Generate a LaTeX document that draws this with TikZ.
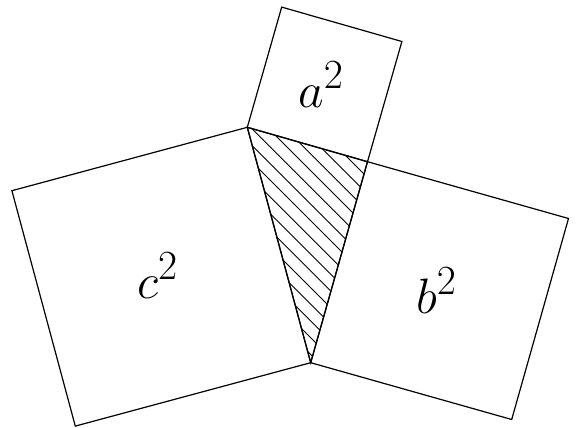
\documentclass[tikz,border=0pt]{standalone}
\usetikzlibrary{calc}
\begin{document}
\begin{tikzpicture}[x=1pt,y=-1pt,
  edge/.style={line width=1.2pt,line join=miter},
  hatch/.style={line width=0.9pt},
  lbl/.style={inner sep=0pt,anchor=base west}]
\useasboundingbox (0,0) rectangle (576,428);
\coordinate (A) at (247.3,127.3);
\coordinate (B) at (367.5,161.7);
\coordinate (C) at (310.7,362.7);
% squares
\draw[edge] (A) -- (B) -- ++(34.4,-120.2) coordinate (B1) -- ($(A)+(34.4,-120.2)$) coordinate (A1) -- cycle;
\draw[edge] (A) -- (C) -- ++(-235.4,63.4) coordinate (C2) -- ($(A)+(-235.4,63.4)$) coordinate (A2) -- cycle;
\draw[edge] (B) -- (C) -- ++(201,56.8) coordinate (C3) -- ($(B)+(201,56.8)$) coordinate (B3) -- cycle;
% hatching
\begin{scope}
\clip (A) -- (B) -- (C) -- cycle;
\foreach \k in {-11,...,3}{
  \pgfmathsetmacro{\c}{140+16.7*\k}
  \draw[hatch] (\c+100,100) -- (\c+400,400);
}
\end{scope}
\draw[edge] (A) -- (B) -- (C) -- cycle;
\node[lbl] (la) at (298,107) {\scalebox{2}{\Huge$a^2$}};
\node[lbl] (lc) at (137,298) {\scalebox{2}{\Huge$c^2$}};
\node[lbl] (lb) at (416,313) {\scalebox{2}{\Huge$b^2$}};
\end{tikzpicture}
\end{document}
